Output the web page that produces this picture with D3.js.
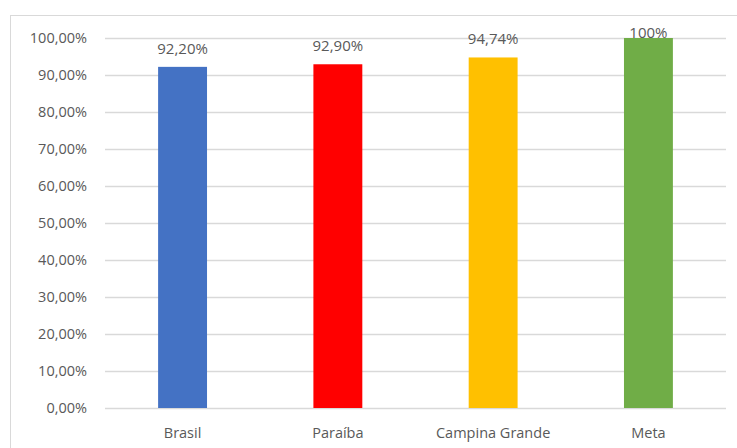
<!DOCTYPE html>
<html>
<head>
<meta charset="utf-8">
<script src="https://cdn.jsdelivr.net/npm/d3@7"></script>
<style>
  body { margin: 0; background: #fff; }
  svg text { font-family: "Open Sans", "Noto Sans", sans-serif; fill: #595959; }
</style>
</head>
<body>
<svg width="737" height="448"></svg>
<script>
var categories = ["Brasil", "Paraíba", "Campina Grande", "Meta"];
var values = [92.20, 92.90, 94.74, 100];
var valueLabels = ["92,20%", "92,90%", "94,74%", "100%"];
var colors = ["#4472C4", "#FF0000", "#FFC000", "#70AD47"];
var yTicks = [0, 10, 20, 30, 40, 50, 60, 70, 80, 90, 100];

var svg = d3.select("svg"),
    margin = {top: 38, right: 11, bottom: 40, left: 105},
    width = +svg.attr("width") - margin.left - margin.right,
    height = +svg.attr("height") - margin.top - margin.bottom;

// outer frame
svg.append("rect")
    .attr("x", 10.5).attr("y", 15.5)
    .attr("width", 740).attr("height", 450)
    .attr("fill", "none")
    .attr("stroke", "#d9d9d9");

var x = d3.scaleBand().domain(categories).range([0, width]).paddingInner(0.685).paddingOuter(0.342);
var y = d3.scaleLinear().domain([0, 100]).range([height, 0]);

var g = svg.append("g")
    .attr("transform", "translate(" + margin.left + "," + margin.top + ")");

// gridlines
g.selectAll(".grid")
    .data(yTicks)
    .enter().append("line")
    .attr("x1", 0).attr("x2", width)
    .attr("y1", function(d) { return Math.round(y(d)) + 0.5; })
    .attr("y2", function(d) { return Math.round(y(d)) + 0.5; })
    .attr("stroke", "#d9d9d9")
    .attr("stroke-width", 1.5);

// y labels
g.selectAll(".ylab")
    .data(yTicks)
    .enter().append("text")
    .attr("x", -18)
    .attr("y", function(d) { return y(d); })
    .attr("dy", "0.35em")
    .attr("text-anchor", "end")
    .style("font-size", "14.5px")
    .text(function(d) { return d.toFixed(2).replace(".", ",") + "%"; });

// bars
g.selectAll(".bar")
    .data(categories)
    .enter().append("rect")
    .attr("x", function(d) { return x(d); })
    .attr("y", function(d, i) { return y(values[i]); })
    .attr("width", x.bandwidth())
    .attr("height", function(d, i) { return height - y(values[i]); })
    .attr("fill", function(d, i) { return colors[i]; });

// value labels (pushed down when they'd run off the top, like excel does)
g.selectAll(".vlab")
    .data(categories)
    .enter().append("text")
    .attr("x", function(d) { return x(d) + x.bandwidth() / 2; })
    .attr("y", function(d, i) { return Math.max(y(values[i]) - 13, 0); })
    .attr("text-anchor", "middle")
    .style("font-size", "15px")
    .text(function(d, i) { return valueLabels[i]; });

// category labels
g.selectAll(".xlab")
    .data(categories)
    .enter().append("text")
    .attr("x", function(d) { return x(d) + x.bandwidth() / 2; })
    .attr("y", height + 30)
    .attr("text-anchor", "middle")
    .style("font-size", "14.5px")
    .text(function(d) { return d; });
</script>
</body>
</html>
